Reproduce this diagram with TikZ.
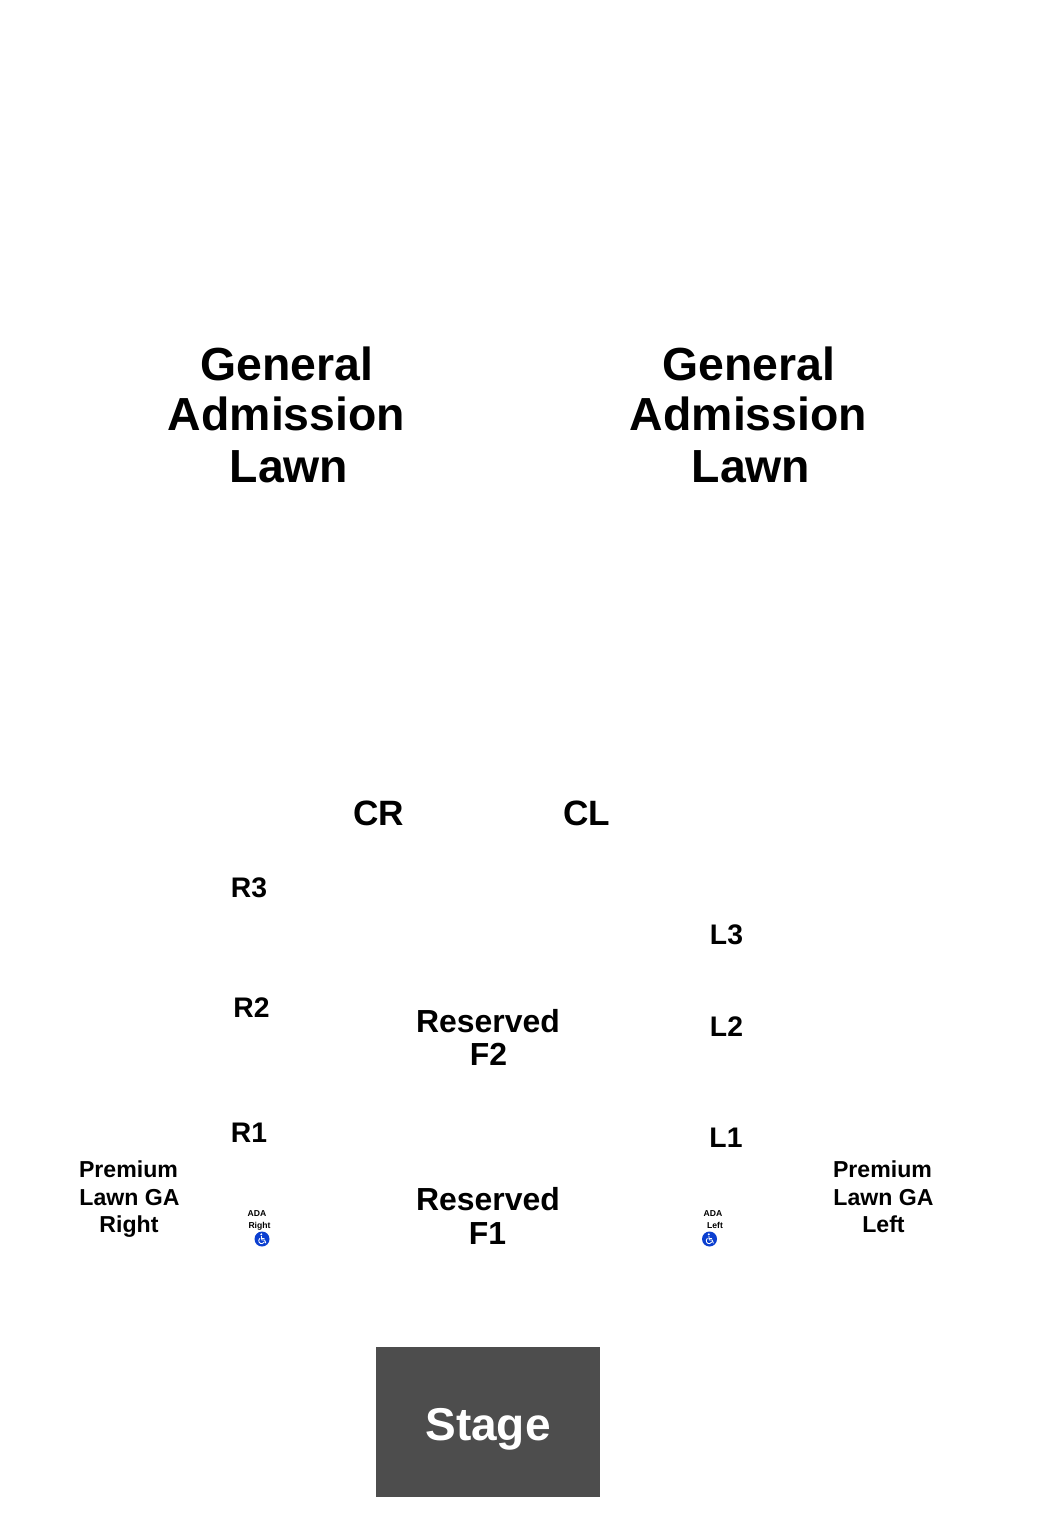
\documentclass[tikz,border=0pt]{standalone}
\usepackage{fontspec}
\setmainfont{Liberation Sans}
\tikzset{
  px/.style={x=1pt,y=-1pt},
  lbl/.style={anchor=base,inner sep=0pt,font=\bfseries\fontsize{#1}{#1}\selectfont},
  stagebox/.style={fill=stagegray,draw=none},
  adaicon/.style={fill=adablue,draw=none},
  adaglyph/.style={draw=white,line width=0.85pt,line cap=round,line join=round}
}
\definecolor{stagegray}{HTML}{4D4D4D}
\definecolor{adablue}{HTML}{0B3FD0}
\begin{document}
\begin{tikzpicture}[px]
\useasboundingbox (0,0) rectangle (1050,1520);
% lawn
\node[lbl=46.4] (gl1) at (287,380) {General};
\node[lbl=46.4] (gl2) at (286.5,430) {Admission};
\node[lbl=46.4] (gl3) at (289,482.5) {Lawn};
\node[lbl=46.4] (gr1) at (749,380) {General};
\node[lbl=46.4] (gr2) at (748.5,430) {Admission};
\node[lbl=46.4] (gr3) at (751,482.5) {Lawn};
% sections
\node[lbl=35.2] (cr) at (378.5,825) {CR};
\node[lbl=35.2] (cl) at (586.5,825) {CL};
\node[lbl=28.3] (r3) at (249,897) {R3};
\node[lbl=28.3] (r2) at (251.5,1017) {R2};
\node[lbl=28.3] (r1) at (249,1142.5) {R1};
\node[lbl=28.3] (l3) at (726.5,944) {L3};
\node[lbl=28.3] (l2) at (726.5,1036) {L2};
\node[lbl=28.3] (l1) at (726,1147) {L1};
% reserved
\node[lbl=31.9] (f2a) at (488,1032) {Reserved};
\node[lbl=31.9] (f2b) at (488.5,1065) {F2};
\node[lbl=31.9] (f1a) at (488,1210) {Reserved};
\node[lbl=31.9] (f1b) at (487.5,1244) {F1};
% premium
\node[lbl=23.1] (pr1) at (128.5,1177) {Premium};
\node[lbl=23.1] (pr2) at (129.5,1205) {Lawn GA};
\node[lbl=23.1] (pr3) at (129,1232) {Right};
\node[lbl=23.1] (pl1) at (882.5,1177) {Premium};
\node[lbl=23.1] (pl2) at (883.5,1205) {Lawn GA};
\node[lbl=23.1] (pl3) at (883.5,1232) {Left};
% ada
\node[lbl=8.6] (ar1) at (257,1216.5) {ADA};
\node[lbl=8.6] (ar2) at (259.5,1228.5) {Right};
\node[lbl=8.6] (al1) at (713,1216.5) {ADA};
\node[lbl=8.6] (al2) at (715,1228.5) {Left};
\foreach \cx/\nm in {262/iconr,709.5/iconl}{
  \begin{scope}[shift={(\cx,1239)}]
    \fill[adaicon] (0,0) circle[radius=7.5];
    \fill[white] (-0.7,-4.7) circle[radius=1.1];
    \draw[adaglyph] (-0.6,-2.7) -- (-0.2,1) -- (2.6,1) -- (3.8,4);
    \draw[adaglyph] (-0.4,-1) -- (2.2,-1);
    \draw[adaglyph] (-2.2,-0.6) .. controls (-4.6,1.5) and (-2.5,5.2) .. (0.2,4.6) .. controls (1.4,4.3) and (2,3.6) .. (2.3,3);
  \end{scope}
}
% stage
\node[stagebox,minimum width=224.5pt,minimum height=150pt,inner sep=0pt,outer sep=0pt] (stagerect) at (487.75,1422) {};
\node[lbl=46,text=white] (stagetxt) at (488,1440) {Stage};
\end{tikzpicture}
\end{document}
